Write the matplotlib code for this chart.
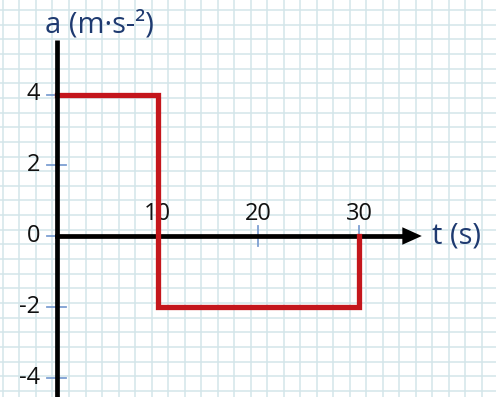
import numpy as np
import matplotlib.pyplot as plt

# acceleration-time data
t = [0, 10, 10, 30, 30]
a = [4, 4, -2, -2, 0]
xticks = [10, 20, 30]
yticks = [-4, -2, 0, 2, 4]
ylabels = ['-4', '-2', '0', '2', '4']
xlabels = ['10', '20', '30']

W, H = 496, 397
fig = plt.figure(figsize=(W / 100, H / 100), dpi=100)
plt.rcParams['font.family'] = ['Open Sans', 'DejaVu Sans']

# graph-paper background in pixel coords
bg = fig.add_axes([0, 0, 1, 1])
bg.set_xlim(0, W)
bg.set_ylim(H, 0)
bg.axis('off')
grid_c = '#d3e5ea'
for x in np.arange(2.9, W, 16.52):
    bg.axvline(x, color=grid_c, lw=1.1)
for y in np.arange(10, H, 14.65):
    bg.axhline(y, color=grid_c, lw=1.1)

# data axes: pixel mapping x0=57, 10 units = 100.7px; y0=236 from top, 1 unit = 35.4px
ax = fig.add_axes([0, 0, 1, 1])
ax.patch.set_alpha(0)
px_x, px_y = 10.07, 35.375
x0, y0 = 57, H - 236
ax.set_xlim(-x0 / px_x, (W - x0) / px_x)
ax.set_ylim(-y0 / px_y, (H - y0) / px_y)
ax.axis('off')

navy = '#1e3a70'
tick_c = '#7d9fd2'

# tick marks
for yv in yticks:
    ax.plot([-1.0, 0.9], [yv, yv], color=tick_c, lw=1.3, zorder=2)
for xv in xticks:
    ax.plot([xv, xv], [-0.28, 0.28], color=tick_c, lw=1.3, zorder=2)

# axes lines
ax.plot([0, 0], [ax.get_ylim()[0], (H - 40 - y0) / px_y], color='black', lw=3.4,
        solid_capstyle='butt', zorder=4)
ax.plot([0, 35.2], [0, 0], color='black', lw=3.4, zorder=3)
ax.annotate('', xy=(36.5, 0), xytext=(35.0, 0),
            arrowprops=dict(arrowstyle='-|>,head_length=1.0,head_width=0.45',
                            color='black', lw=0, mutation_scale=14), zorder=3)

# red step line
ax.plot(t, a, color='#c4161c', lw=3.8, solid_joinstyle='miter', zorder=3.5)

# tick labels
for yv, lab in zip(yticks, ylabels):
    ax.annotate(lab, (0, yv), xytext=(-12, 0), textcoords='offset points',
                ha='right', va='center', fontsize=17, color='#111111')
for xv, lab in zip(xticks, xlabels):
    ax.annotate(lab, (xv, 0), xytext=(0, 16), textcoords='offset points',
                ha='center', va='center', fontsize=17, color='#111111')

# axis titles
ax.annotate('a (m·s-²)', (0, (H - 25 - y0) / px_y), xytext=(-9, 0),
            textcoords='offset points', ha='left', va='center',
            fontsize=21, color=navy)
ax.annotate('t (s)', (37.2, 0), xytext=(0, 0), textcoords='offset points',
            ha='left', va='center', fontsize=21, color=navy)

fig.savefig('out.png', dpi=100)
